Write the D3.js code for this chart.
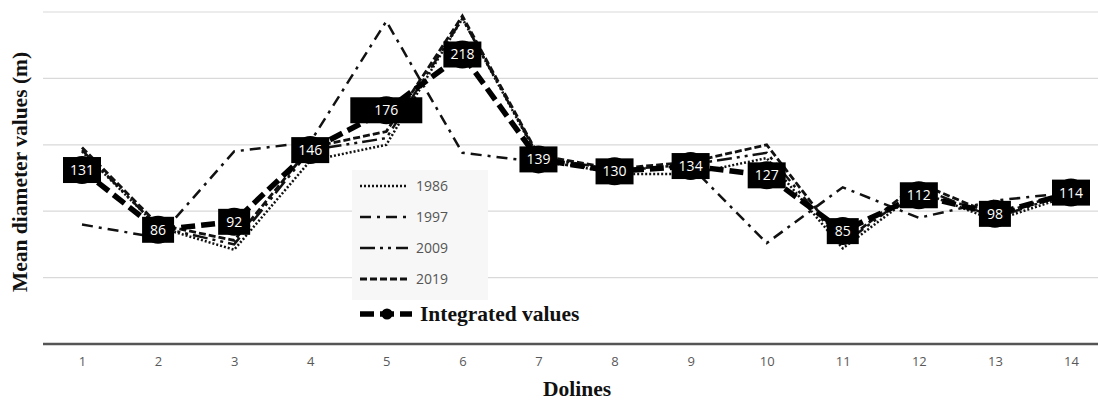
<!DOCTYPE html>
<html>
<head>
<meta charset="utf-8">
<script src="https://cdn.jsdelivr.net/npm/d3@7"></script>
<style>
  body { margin: 0; background: #fff; }
  svg { display: block; }
</style>
</head>
<body>
<div id="chart"></div>
<script>
// data
const dolines = ['1', '2', '3', '4', '5', '6', '7', '8', '9', '10', '11', '12', '13', '14'];
const y1986 = [145, 88, 71, 138, 150, 245, 140, 128, 128, 140, 72, 115, 93, 112];
const y1997 = [90, 80, 145, 152, 243, 144, 137, 131, 134, 76, 118, 95, 108, 114];
const y2009 = [146, 88, 75, 146, 155, 245, 141, 131, 135, 144, 75, 118, 95, 114];
const y2019 = [148, 90, 78, 148, 160, 247, 142, 132, 137, 150, 76, 121, 97, 115];
const integrated = [131, 86, 92, 146, 176, 218, 139, 130, 134, 127, 85, 112, 98, 114];
const gridValues = [50, 100, 150, 200, 250];

const series = [
    { name: '1986', values: y1986, dash: '2,2', width: 2.5 },
    { name: '1997', values: y1997, dash: '11,6,3,6', width: 2.5 },
    { name: '2009', values: y2009, dash: '15,5,3,5,3,5', width: 2.5 },
    { name: '2019', values: y2019, dash: '7,3', width: 2.8 }
];

const width = 1098;
const height = 400;

const svg = d3.select('#chart')
    .append('svg')
    .attr('width', width)
    .attr('height', height);

const x = d3.scalePoint()
    .domain(dolines)
    .range([82, 1071]);

const y = d3.scaleLinear()
    .domain([0, 250])
    .range([344, 12]);

// gridlines
svg.append('g')
    .selectAll('line')
    .data(gridValues)
    .enter()
    .append('line')
    .attr('x1', 43)
    .attr('x2', width)
    .attr('y1', d => y(d))
    .attr('y2', d => y(d))
    .attr('stroke', '#d9d9d9')
    .attr('stroke-width', 1.2);

// x axis
const xAxis = svg.append('g')
    .attr('transform', `translate(0,${y(0)})`)
    .call(d3.axisBottom(x).tickSize(0).tickPadding(13));
xAxis.select('.domain').remove();
xAxis.selectAll('text')
    .attr('fill', '#595959')
    .attr('font-family', 'Open Sans, sans-serif')
    .attr('font-size', 13);
svg.append('line')
    .attr('x1', 43)
    .attr('x2', width)
    .attr('y1', y(0))
    .attr('y2', y(0))
    .attr('stroke', '#555')
    .attr('stroke-width', 2.5);

// legend background
svg.append('rect')
    .attr('x', 352)
    .attr('y', 170)
    .attr('width', 136)
    .attr('height', 130)
    .attr('fill', '#f7f7f7');

const line = d3.line()
    .x((d, i) => x(dolines[i]))
    .y(d => y(d));

svg.append('g')
    .selectAll('path')
    .data(series)
    .enter()
    .append('path')
    .attr('d', d => line(d.values))
    .attr('fill', 'none')
    .attr('stroke', '#111')
    .attr('stroke-width', d => d.width)
    .attr('stroke-dasharray', d => d.dash);

svg.append('path')
    .attr('d', line(integrated))
    .attr('fill', 'none')
    .attr('stroke', '#000')
    .attr('stroke-width', 5.5)
    .attr('stroke-dasharray', '14,6');

// markers + data labels
const pts = svg.append('g')
    .selectAll('g')
    .data(integrated)
    .enter()
    .append('g')
    .attr('transform', (d, i) => `translate(${x(dolines[i])},${y(d)})`);

pts.append('circle')
    .attr('r', 14)
    .attr('fill', '#000');

pts.append('rect')
    .attr('x', (d, i) => i === 4 ? -36 : (d < 100 ? -16 : -19))
    .attr('y', -13)
    .attr('width', (d, i) => i === 4 ? 72 : (d < 100 ? 32 : 38))
    .attr('height', 26)
    .attr('fill', '#000');

pts.append('text')
    .text(d => d)
    .attr('text-anchor', 'middle')
    .attr('dy', 5)
    .attr('fill', '#fff')
    .attr('font-family', 'Open Sans, sans-serif')
    .attr('font-size', 14);

// legend
const legend = svg.append('g');
const legendRows = legend.selectAll('g')
    .data(series)
    .enter()
    .append('g')
    .attr('transform', (d, i) => `translate(360,${186 + i * 31})`);

legendRows.append('line')
    .attr('x1', 0)
    .attr('x2', 48)
    .attr('stroke', '#111')
    .attr('stroke-width', d => d.width)
    .attr('stroke-dasharray', d => d.dash);

legendRows.append('text')
    .text(d => d.name)
    .attr('x', 56)
    .attr('dy', 5)
    .attr('fill', '#555')
    .attr('font-family', 'Open Sans, sans-serif')
    .attr('font-size', 14);

const intLegend = legend.append('g')
    .attr('transform', 'translate(360,314)');
intLegend.append('line')
    .attr('x1', 0)
    .attr('x2', 52)
    .attr('stroke', '#000')
    .attr('stroke-width', 5.5)
    .attr('stroke-dasharray', '14,6');
intLegend.append('circle')
    .attr('cx', 27)
    .attr('r', 5.5)
    .attr('fill', '#000');
intLegend.append('text')
    .text('Integrated values')
    .attr('x', 60)
    .attr('dy', 7)
    .attr('fill', '#111')
    .attr('font-family', 'Liberation Serif, serif')
    .attr('font-weight', 'bold')
    .attr('font-size', 21.5);

// axis titles
svg.append('text')
    .text('Dolines')
    .attr('x', 577)
    .attr('y', 396)
    .attr('text-anchor', 'middle')
    .attr('fill', '#111')
    .attr('font-family', 'Liberation Serif, serif')
    .attr('font-weight', 'bold')
    .attr('font-size', 21.5);

svg.append('text')
    .text('Mean diameter values (m)')
    .attr('transform', 'translate(27,172) rotate(-90)')
    .attr('text-anchor', 'middle')
    .attr('fill', '#111')
    .attr('font-family', 'Liberation Serif, serif')
    .attr('font-weight', 'bold')
    .attr('font-size', 21.5);
</script>
</body>
</html>
